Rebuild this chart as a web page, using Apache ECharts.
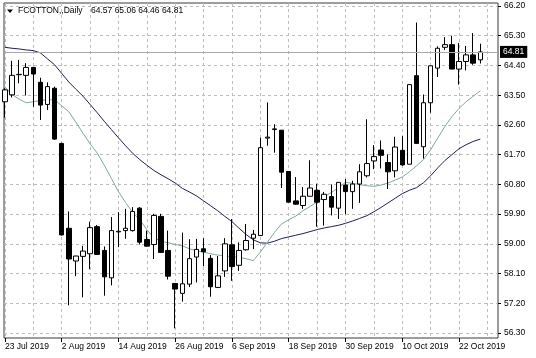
<!DOCTYPE html>
<html>
<head>
<meta charset="utf-8">
<script src="https://cdn.jsdelivr.net/npm/echarts@6/dist/echarts.min.js"></script>
<style>
html,body{margin:0;padding:0;background:#fff;}
#chart{width:536px;height:358px;}
</style>
</head>
<body>
<div id="chart"></div>
<script>
// ---- data ----
const symbolName = 'FCOTTON,,Daily';
const dates = [
 '23 Jul 2019','24 Jul 2019','25 Jul 2019','26 Jul 2019','29 Jul 2019','30 Jul 2019','31 Jul 2019','1 Aug 2019',
 '2 Aug 2019','5 Aug 2019','6 Aug 2019','7 Aug 2019','8 Aug 2019','9 Aug 2019','12 Aug 2019','13 Aug 2019',
 '14 Aug 2019','15 Aug 2019','16 Aug 2019','19 Aug 2019','20 Aug 2019','21 Aug 2019','22 Aug 2019','23 Aug 2019',
 '26 Aug 2019','27 Aug 2019','28 Aug 2019','29 Aug 2019','30 Aug 2019','3 Sep 2019','4 Sep 2019','5 Sep 2019',
 '6 Sep 2019','9 Sep 2019','10 Sep 2019','11 Sep 2019','12 Sep 2019','13 Sep 2019','16 Sep 2019','17 Sep 2019',
 '18 Sep 2019','19 Sep 2019','20 Sep 2019','23 Sep 2019','24 Sep 2019','25 Sep 2019','26 Sep 2019','27 Sep 2019',
 '30 Sep 2019','1 Oct 2019','2 Oct 2019','3 Oct 2019','4 Oct 2019','7 Oct 2019','8 Oct 2019','9 Oct 2019',
 '10 Oct 2019','11 Oct 2019','14 Oct 2019','15 Oct 2019','16 Oct 2019','17 Oct 2019','18 Oct 2019','21 Oct 2019',
 '22 Oct 2019','23 Oct 2019','24 Oct 2019','25 Oct 2019'
];
const opens = [
 63.30,63.51,64.12,64.10,64.34,63.89,63.22,63.71,
 62.04,59.47,58.48,58.62,58.70,59.52,58.80,57.97,
 59.36,59.40,59.40,60.08,59.13,58.98,59.83,58.80,
 57.80,57.50,57.78,58.60,58.85,58.56,57.68,58.18,
 58.97,58.35,58.82,59.17,59.25,62.20,62.46,62.44,
 61.19,60.30,60.16,60.44,60.62,60.34,60.43,60.08,
 60.78,60.58,60.81,61.06,61.51,61.84,61.46,61.21,
 61.83,61.41,64.09,61.94,63.27,64.32,64.95,65.03,
 64.29,64.52,64.72,64.57
];
const highs = [
 63.71,64.54,64.57,64.47,64.36,64.03,63.89,63.76,
 62.06,59.98,58.64,58.94,59.67,59.57,58.92,59.81,
 59.96,60.06,60.11,60.11,59.40,59.91,59.91,59.40,
 57.80,59.34,59.14,59.15,59.17,58.66,58.63,59.17,
 59.75,59.04,59.60,59.42,62.21,63.28,62.62,62.44,
 61.19,61.02,60.72,61.53,60.82,60.57,60.80,60.86,
 60.96,60.91,61.41,62.77,61.99,62.13,61.71,62.24,
 62.26,63.82,65.70,63.52,64.39,64.98,65.26,65.30,
 65.08,64.99,65.38,65.06
];
const lows = [
 62.82,63.43,63.86,63.49,63.15,62.75,63.05,62.15,
 59.25,57.14,58.02,57.38,58.23,58.66,57.43,57.74,
 58.90,59.15,59.37,58.98,58.92,58.54,58.73,57.92,
 56.44,57.25,57.69,57.83,58.32,57.40,57.66,58.00,
 57.88,58.18,58.79,58.84,59.25,61.97,61.76,60.69,
 60.26,60.18,60.06,60.44,59.52,59.55,59.86,59.75,
 59.90,60.06,60.24,61.01,61.26,61.28,60.66,61.01,
 61.36,61.41,62.04,61.58,62.97,64.05,64.87,64.29,
 63.82,64.25,64.42,64.46
];
const closes = [
 63.66,64.10,64.13,64.34,64.14,63.20,63.76,62.17,
 59.27,58.54,58.63,58.78,59.49,58.68,58.00,59.40,
 59.38,59.47,59.98,59.05,58.93,59.86,58.74,58.02,
 57.63,57.79,58.55,58.83,58.76,57.70,58.03,59.00,
 58.31,58.80,59.10,59.29,61.91,62.23,62.48,61.17,
 60.26,60.20,60.44,60.69,60.26,60.50,60.11,60.86,
 60.58,60.81,61.18,61.43,61.64,61.68,61.18,61.93,
 61.39,63.82,62.04,63.27,64.39,64.92,65.03,64.29,
 64.52,64.72,64.47,64.81
];
const maSlow = [
 64.95,64.92,64.90,64.87,64.85,64.78,64.60,64.42,
 64.16,63.90,63.68,63.47,63.22,62.97,62.71,62.46,
 62.21,61.97,61.74,61.55,61.38,61.22,61.09,60.97,
 60.84,60.68,60.57,60.45,60.30,60.15,60.00,59.83,
 59.67,59.47,59.28,59.12,59.03,59.02,59.08,59.16,
 59.21,59.26,59.31,59.37,59.43,59.48,59.52,59.56,
 59.62,59.69,59.77,59.85,59.97,60.10,60.24,60.38,
 60.52,60.62,60.70,60.85,61.06,61.30,61.52,61.70,
 61.88,62.00,62.10,62.17
];
const maFast = [
 63.75,63.52,63.38,63.27,63.30,63.34,63.36,63.36,
 63.18,63.00,62.68,62.35,62.03,61.75,61.38,60.98,
 60.58,60.25,59.95,59.73,59.43,59.18,59.08,59.03,
 58.98,58.94,58.85,58.79,58.75,58.70,58.66,58.64,
 58.61,58.59,58.55,58.49,58.75,59.05,59.35,59.60,
 59.73,59.84,60.00,60.13,60.27,60.43,60.55,60.70,
 60.86,60.83,60.79,60.76,60.74,60.78,60.84,60.93,
 61.02,61.18,61.36,61.55,61.85,62.20,62.55,62.85,
 63.10,63.30,63.47,63.63
];
const yTicks = [56.30,57.20,58.10,59.00,59.90,60.80,61.70,62.60,63.50,64.40,65.30,66.20];
const emptySlots = ['', ''];

// ---- build ----
const cats = dates.concat(emptySlots);
const candleData = opens.map((o, i) => [o, closes[i], lows[i], highs[i]]);
const last = opens.length - 1;
const ohlcText = [opens[last], highs[last], lows[last], closes[last]].map(v => v.toFixed(2)).join(' ');
const FONT = 'Liberation Sans';
const FS = 8.5;

const chart = echarts.init(document.getElementById('chart'), null, {renderer: 'canvas'});
const gridDefs = [
  {left: 4.94, right: 41.5, top: 6, bottom: 25},   // series
  {left: 4, right: 38, top: 6, bottom: 25},        // price labels + horizontal grid
  {left: 4, right: 38, top: 3, bottom: 20, show: true, borderColor: '#3a3a3a', borderWidth: 1, backgroundColor: 'transparent'}, // frame
  {left: 4.94, right: 41.5, top: 3, bottom: 20}    // date labels + vertical grid
];
chart.setOption({
  animation: false,
  backgroundColor: '#fff',
  textStyle: {fontFamily: FONT},
  graphic: [
    {type: 'polygon', shape: {points: [[7, 9.5], [13, 9.5], [10, 13]]}, style: {fill: '#000'}, z: 10},
    {type: 'text', x: 18, y: 6, z: 10,
      style: {text: symbolName, fill: '#000', font: '8.5px "Liberation Sans"', verticalAlign: 'top'}},
    {type: 'text', x: 91, y: 6, z: 10,
      style: {text: ohlcText, fill: '#000', font: '8.5px "Liberation Sans"', verticalAlign: 'top'}}
  ],
  grid: gridDefs,
  xAxis: [
    {gridIndex: 0, type: 'category', data: cats, boundaryGap: false, show: false},
    {gridIndex: 1, type: 'category', data: cats, boundaryGap: false, show: false},
    {gridIndex: 2, type: 'category', data: cats, boundaryGap: false, show: false},
    {gridIndex: 3, type: 'category', data: cats, boundaryGap: false,
      axisLine: {show: false},
      axisTick: {show: true, interval: 7, length: 4, lineStyle: {color: '#000'}},
      axisLabel: {interval: 7, align: 'left', margin: 4, fontSize: FS, color: '#000', fontFamily: FONT},
      splitLine: {show: true, interval: 3, lineStyle: {type: [3, 3], color: '#bdbdbd', width: 1}}
    }
  ],
  yAxis: [
    {gridIndex: 0, type: 'value', min: yTicks[0], max: yTicks[yTicks.length - 1], show: false},
    {gridIndex: 1, type: 'value', position: 'right', min: yTicks[0], max: yTicks[yTicks.length - 1], interval: 0.9,
      axisLine: {show: false},
      axisTick: {show: true, length: 3, lineStyle: {color: '#000'}},
      axisLabel: {margin: 6, fontSize: FS, color: '#000', fontFamily: FONT, formatter: v => v.toFixed(2)},
      splitLine: {show: true, lineStyle: {type: [3, 3], color: '#bdbdbd', width: 1}}
    },
    {gridIndex: 2, type: 'value', show: false},
    {gridIndex: 3, type: 'value', show: false}
  ],
  series: [
    {
      type: 'line', xAxisIndex: 1, yAxisIndex: 1, data: [], silent: true,
      markLine: {
        silent: true, symbol: ['none', 'none'],
        lineStyle: {color: '#a8a8a8', type: 'solid', width: 1},
        label: {position: 'end', distance: 2, formatter: () => closes[last].toFixed(2),
          color: '#fff', backgroundColor: '#000', padding: [2, 3, 1, 3], fontSize: FS, fontFamily: FONT},
        data: [{yAxis: closes[last]}]
      }
    },
    {
      type: 'line', xAxisIndex: 0, yAxisIndex: 0, data: maSlow, showSymbol: false, symbol: 'none',
      lineStyle: {color: '#20204e', width: 1}, silent: true, z: 3
    },
    {
      type: 'line', xAxisIndex: 0, yAxisIndex: 0, data: maFast, showSymbol: false, symbol: 'none',
      lineStyle: {color: '#7fa89a', width: 1}, silent: true, z: 3
    },
    {
      type: 'candlestick', xAxisIndex: 0, yAxisIndex: 0, data: candleData, barWidth: 5, clip: false, z: 4,
      itemStyle: {color: '#fff', color0: '#000', borderColor: '#000', borderColor0: '#000', borderWidth: 1}
    }
  ]
});
</script>
</body>
</html>
